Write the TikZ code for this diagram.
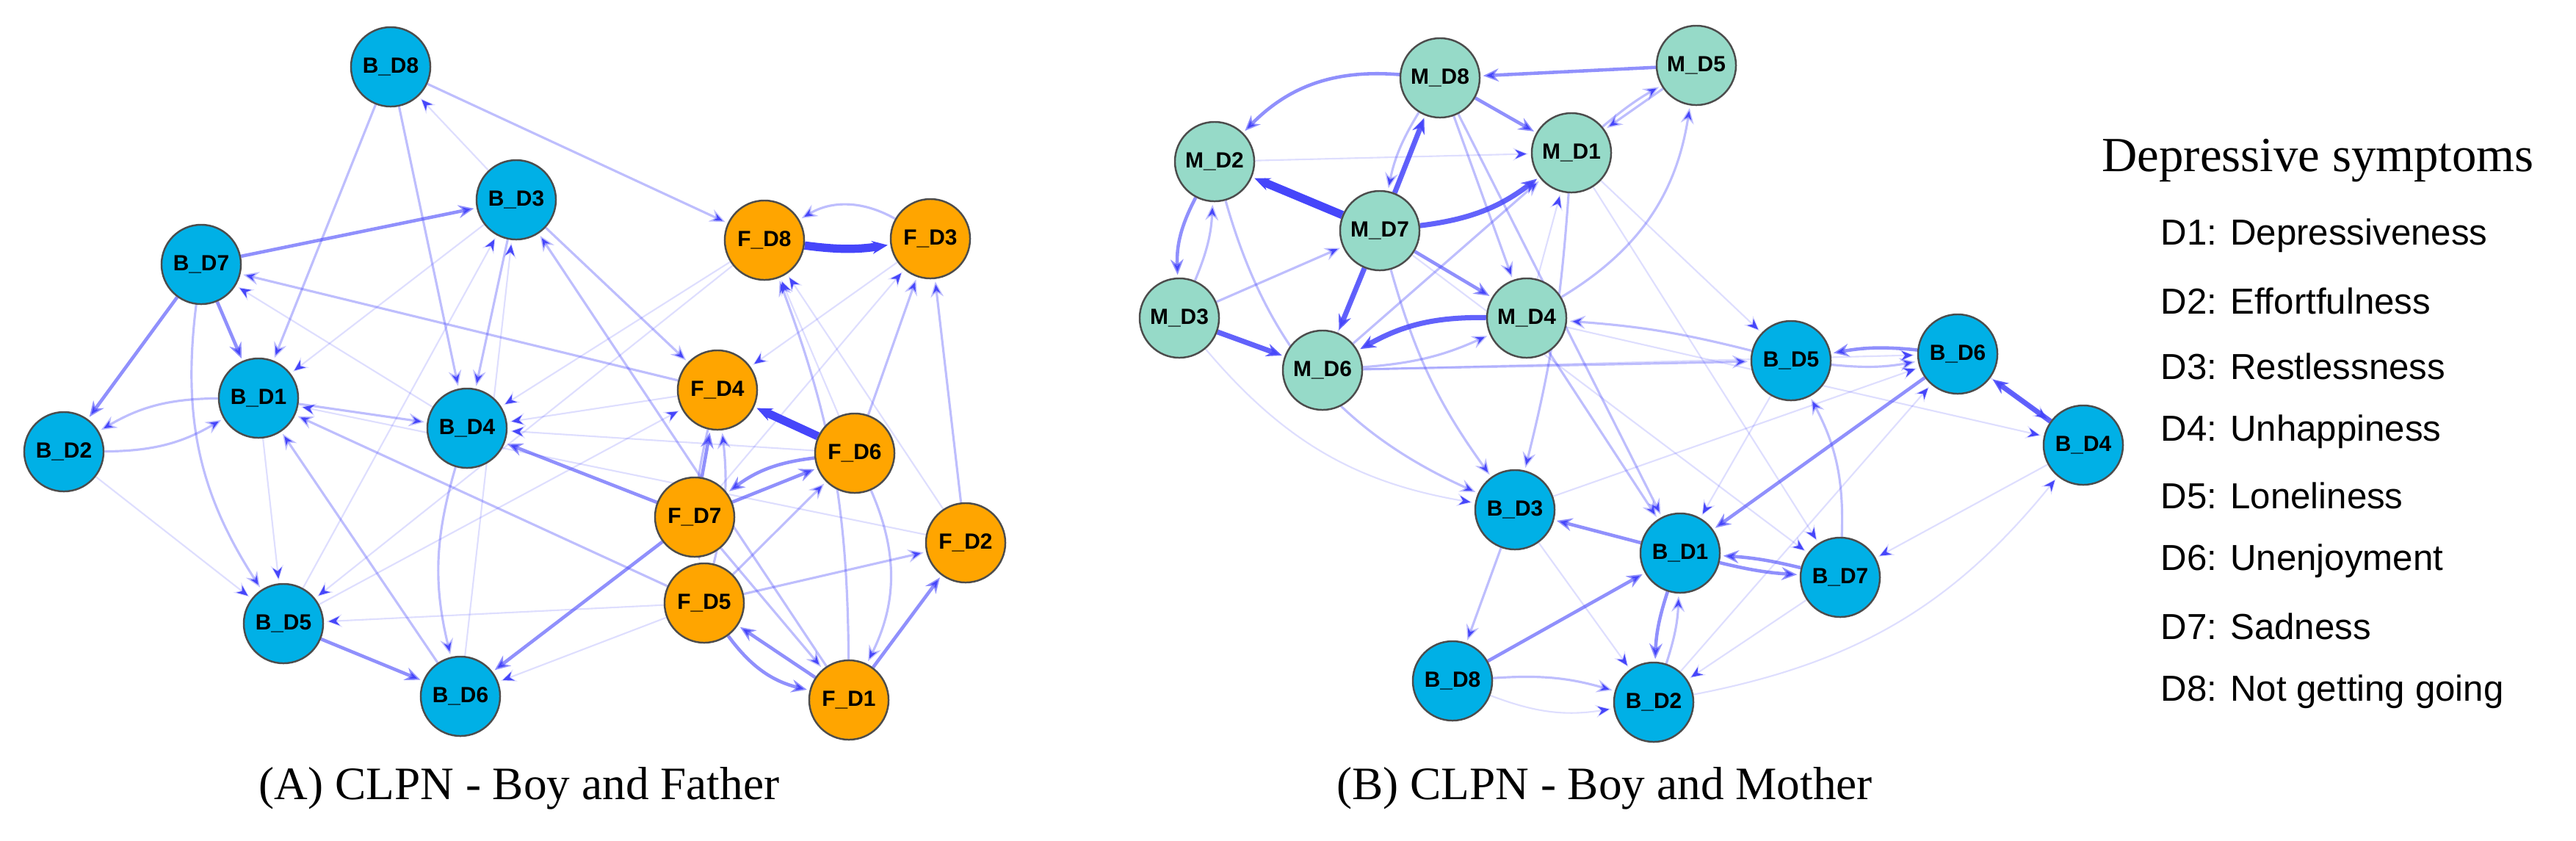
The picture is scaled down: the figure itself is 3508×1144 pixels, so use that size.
\documentclass[tikz,border=0pt]{standalone}
\usepackage{fontspec}
\setmainfont{Liberation Serif}
\newfontfamily\arial{Liberation Sans}
\usetikzlibrary{arrows.meta}
\definecolor{cy}{RGB}{0,176,230}
\definecolor{org}{RGB}{255,165,0}
\definecolor{tl}{RGB}{150,218,200}
\definecolor{eb}{RGB}{70,70,250}
\pgfdeclarelayer{bg}\pgfsetlayers{bg,main}
\tikzset{
 nd/.style={circle,draw=black!70,line width=0.7pt,minimum size=1.08cm,inner sep=0pt,font=\arial\bfseries\fontsize{8.5}{9}\selectfont},
 bn/.style={nd,fill=cy}, fn/.style={nd,fill=org}, mn/.style={nd,fill=tl},
 e/.style={draw=eb,-{Stealth[length=6pt,width=5pt]},shorten >=1pt},
 e1/.style={e,line width=0.6pt,draw opacity=0.18},
 e2/.style={e,line width=0.9pt,draw opacity=0.35},
 e3/.style={e,line width=1.3pt,draw opacity=0.6},
 e4/.style={e,line width=2pt,draw opacity=0.85},
 e5/.style={e,line width=3.2pt,draw opacity=1},
 leg/.style={anchor=west,font=\arial\fontsize{14}{16}\selectfont}
}
\begin{document}
\begin{tikzpicture}[x=0.01cm,y=-0.01cm]
\useasboundingbox (0,0) rectangle (3508,1144);
% left panel
\node[bn] (lb8) at (532,91) {B\_D8};
\node[bn] (lb3) at (703,272) {B\_D3};
\node[bn] (lb7) at (274,360) {B\_D7};
\node[bn] (lb1) at (352,542) {B\_D1};
\node[bn] (lb2) at (87,615) {B\_D2};
\node[bn] (lb4) at (636,583) {B\_D4};
\node[bn] (lb5) at (386,849) {B\_D5};
\node[bn] (lb6) at (627,948) {B\_D6};
\node[fn] (f8) at (1041,327) {F\_D8};
\node[fn] (f3) at (1267,325) {F\_D3};
\node[fn] (f4) at (977,531) {F\_D4};
\node[fn] (f6) at (1164,617) {F\_D6};
\node[fn] (f7) at (946,704) {F\_D7};
\node[fn] (f2) at (1315,739) {F\_D2};
\node[fn] (f5) at (959,821) {F\_D5};
\node[fn] (f1) at (1156,953) {F\_D1};
\node[font=\fontsize{18}{20}\selectfont] (capA) at (707,1073) {(A) CLPN - Boy and Father};
% right panel
\node[mn] (m8) at (1961,106) {M\_D8};
\node[mn] (m5) at (2310,89) {M\_D5};
\node[mn] (m1) at (2140,208) {M\_D1};
\node[mn] (m2) at (1654,220) {M\_D2};
\node[mn] (m7) at (1879,314) {M\_D7};
\node[mn] (m3) at (1606,433) {M\_D3};
\node[mn] (m4) at (2079,433) {M\_D4};
\node[mn] (m6) at (1801,504) {M\_D6};
\node[bn] (rb5) at (2439,491) {B\_D5};
\node[bn] (rb6) at (2666,482) {B\_D6};
\node[bn] (rb4) at (2837,606) {B\_D4};
\node[bn] (rb3) at (2063,694) {B\_D3};
\node[bn] (rb1) at (2288,753) {B\_D1};
\node[bn] (rb7) at (2506,786) {B\_D7};
\node[bn] (rb8) at (1978,927) {B\_D8};
\node[bn] (rb2) at (2252,956) {B\_D2};
\node[font=\fontsize{18}{20}\selectfont] (capB) at (2185,1073) {(B) CLPN - Boy and Mother};
% legend
\node[anchor=west,font=\fontsize{19}{22}\selectfont] (lt) at (2850,219) {Depressive symptoms};
\node[leg] (l1) at (2930,321) {D1: Depressiveness};
\node[leg] (l2) at (2930,410) {D2: Effortfulness};
\node[leg] (l3) at (2930,499) {D3: Restlessness};
\node[leg] (l4) at (2930,588) {D4: Unhappiness};
\node[leg] (l5) at (2930,675) {D5: Loneliness};
\node[leg] (l6) at (2930,764) {D6: Unenjoyment};
\node[leg] (l7) at (2930,853) {D7: Sadness};
\node[leg] (l8) at (2930,942) {D8: Not getting going};
\begin{pgfonlayer}{bg}
% left edges
\draw[e5] (f8) to[bend right=8] (f3);
\draw[e2] (f3) to[bend right=30] (f8);
\draw[e5] (f6) -- (f4);
\draw[e3] (lb7) -- (lb1);
\draw[e3] (lb7) -- (lb2);
\draw[e3] (lb7) -- (lb3);
\draw[e3] (lb5) -- (lb6);
\draw[e3] (f7) -- (lb6);
\draw[e3] (f7) -- (lb4);
\draw[e3] (f7) -- (f4);
\draw[e3] (f7) -- (f6);
\draw[e3] (f6) to[bend right=15] (f7);
\draw[e3] (f1) -- (f5);
\draw[e3] (f5) to[bend right=20] (f1);
\draw[e3] (f1) -- (f2);
\draw[e2] (f2) -- (f3);
\draw[e2] (f6) to[bend left=25] (f1);
\draw[e2] (f6) -- (f3);
\draw[e2] (lb3) -- (f4);
\draw[e2] (lb1) -- (lb4);
\draw[e2] (lb1) to[bend right=15] (lb2);
\draw[e2] (lb2) to[bend right=15] (lb1);
\draw[e2] (lb8) -- (lb1);
\draw[e2] (lb8) -- (lb4);
\draw[e1] (lb3) -- (lb8);
\draw[e2] (lb8) -- (f8);
\draw[e2] (f4) -- (lb7);
\draw[e2] (f5) -- (lb1);
\draw[e2] (lb6) -- (lb1);
\draw[e2] (lb4) to[bend right=15] (lb6);
\draw[e2] (lb7) to[bend right=20] (lb5);
\draw[e2] (f1) -- (lb3);
\draw[e2] (lb3) -- (lb4);
\draw[e2] (f5) -- (f2);
\draw[e2] (f4) to[bend right=10] (f5);
\draw[e2] (f5) to[bend right=10] (f4);
\draw[e2] (f1) to[bend right=10] (f8);
\draw[e2] (f7) -- (f1);
\draw[e2] (f5) -- (f6);
\draw[e1] (f8) -- (lb4);
\draw[e1] (f8) -- (lb5);
\draw[e1] (f3) -- (f4);
\draw[e1] (f7) -- (f3);
\draw[e1] (lb2) -- (lb5);
\draw[e1] (lb5) -- (lb3);
\draw[e1] (lb6) -- (lb3);
\draw[e1] (lb1) -- (lb5);
\draw[e1] (f5) -- (lb6);
\draw[e1] (f5) -- (lb5);
\draw[e1] (f2) -- (lb1);
\draw[e1] (f4) -- (lb4);
\draw[e1] (lb5) -- (f4);
\draw[e1] (lb3) -- (lb1);
\draw[e1] (f6) -- (f8);
\draw[e1] (f2) -- (f8);
\draw[e1] (f6) -- (lb4);
\draw[e1] (lb4) -- (lb7);
% right edges
\draw[e5] (m7) -- (m2);
\draw[e3] (m2) to[bend right=15] (m3);
\draw[e4] (m3) -- (m6);
\draw[e4] (m7) -- (m6);
\draw[e4] (m4) to[bend right=15] (m6);
\draw[e4] (m7) -- (m8);
\draw[e4] (m7) to[bend right=15] (m1);
\draw[e3] (m7) -- (m4);
\draw[e3] (m5) -- (m8);
\draw[e3] (m8) to[bend right=25] (m2);
\draw[e3] (m8) -- (m1);
\draw[e2] (m5) -- (m1);
\draw[e2] (m1) to[bend left=5] (m5);
\draw[e2] (m4) to[bend right=25] (m5);
\draw[e2] (m8) to[bend right=10] (m7);
\draw[e2] (m8) -- (m4);
\draw[e2] (m6) to[bend right=10] (m4);
\draw[e2] (m3) to[bend right=10] (m2);
\draw[e2] (m3) -- (m7);
\draw[e2] (m6) -- (m1);
\draw[e1] (m6) -- (m8);
\draw[e1] (m2) -- (m1);
\draw[e1] (m4) -- (m1);
\draw[e4] (rb4) -- (rb6);
\draw[e3] (rb6) to[bend right=8] (rb5);
\draw[e2] (rb5) to[bend right=8] (rb6);
\draw[e3] (rb6) -- (rb1);
\draw[e3] (rb1) -- (rb3);
\draw[e3] (rb7) to[bend right=5] (rb1);
\draw[e3] (rb1) to[bend right=5] (rb7);
\draw[e3] (rb8) -- (rb1);
\draw[e3] (rb1) to[bend right=8] (rb2);
\draw[e2] (rb2) to[bend right=8] (rb1);
\draw[e2] (rb8) to[bend left=10] (rb2);
\draw[e1] (rb8) to[bend right=15] (rb2);
\draw[e2] (rb3) -- (rb8);
\draw[e2] (rb7) to[bend right=15] (rb5);
\draw[e2] (m7) to[bend right=10] (rb3);
\draw[e2] (m4) -- (rb1);
\draw[e2] (m8) -- (rb1);
\draw[e2] (m1) to[bend left=5] (rb3);
\draw[e2] (m6) -- (rb5);
\draw[e2] (rb5) to[bend right=5] (m4);
\draw[e2] (m2) to[bend right=25] (rb3);
\draw[e1] (m7) -- (rb7);
\draw[e1] (m1) -- (rb7);
\draw[e1] (rb4) -- (rb7);
\draw[e1] (rb2) to[bend right=20] (rb4);
\draw[e1] (rb2) -- (rb6);
\draw[e1] (rb3) -- (rb6);
\draw[e1] (rb3) -- (rb2);
\draw[e1] (rb6) -- (rb4);
\draw[e1] (m4) -- (rb4);
\draw[e1] (rb5) -- (rb1);
\draw[e1] (rb7) -- (rb2);
\draw[e1] (m3) to[bend right=20] (rb3);
\draw[e1] (m6) -- (rb6);
\draw[e1] (m1) -- (rb5);
\end{pgfonlayer}
\end{tikzpicture}
\end{document}
